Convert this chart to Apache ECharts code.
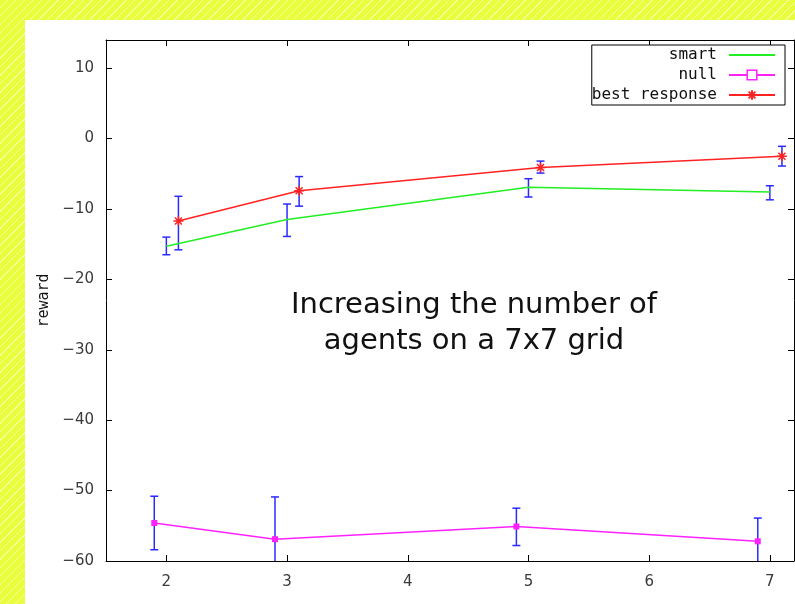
<!DOCTYPE html>
<html>
<head>
<meta charset="utf-8">
<script src="https://cdn.jsdelivr.net/npm/echarts@6/dist/echarts.min.js"></script>
<style>
  html, body { margin: 0; padding: 0; }
  body {
    width: 795px; height: 604px; overflow: hidden; position: relative;
    background: repeating-linear-gradient(135deg, #eafd3c 0px, #eafd3c 5px, #f3fe96 5px, #f3fe96 6px);
  }
  #chart { position: absolute; left: 25px; top: 20px; width: 770px; height: 584px; background: #fff; }
</style>
</head>
<body>
<div id="chart"></div>
<script>
// tick labels
var xTicks = [2, 3, 4, 5, 6, 7];
var yTicks = [-60, -50, -40, -30, -20, -10, 0, 10];

// smart
var smartX = [2, 3, 5, 7];
var smartY = [-15.3, -11.5, -6.9, -7.6];
var smartLo = [-16.5, -13.9, -8.3, -8.7];
var smartHi = [-14.0, -9.3, -5.7, -6.7];

// null
var nullX = [1.9, 2.9, 4.9, 6.9];
var nullY = [-54.6, -56.9, -55.1, -57.2];
var nullLo = [-58.4, -62.9, -57.8, -60.5];
var nullHi = [-50.8, -50.9, -52.5, -53.9];

// best response
var bestX = [2.1, 3.1, 5.1, 7.1];
var bestY = [-11.7, -7.4, -4.1, -2.5];
var bestLo = [-15.8, -9.6, -4.9, -3.9];
var bestHi = [-8.2, -5.4, -3.2, -1.1];

var chart = echarts.init(document.getElementById("chart"));

function pts(xs, ys) {
  return xs.map(function (x, i) { return [x, ys[i]]; });
}
function bars(xs, lo, hi) {
  return xs.map(function (x, i) { return [x, lo[i], hi[i]]; });
}
var errData = bars(smartX, smartLo, smartHi)
  .concat(bars(nullX, nullLo, nullHi))
  .concat(bars(bestX, bestLo, bestHi));

// gnuplot style asterisk
var starPath = "path://M5,0L5,10M0,5L10,5M1.5,1.5L8.5,8.5M1.5,8.5L8.5,1.5";

function renderErr(params, api) {
  var x = api.value(0);
  var lo = api.coord([x, api.value(1)]);
  var hi = api.coord([x, api.value(2)]);
  var w = 4;
  var st = { stroke: "#2a2aff", lineWidth: 1.5 };
  return {
    type: "group",
    children: [
      { type: "line", shape: { x1: lo[0], y1: lo[1], x2: hi[0], y2: hi[1] }, style: st },
      { type: "line", shape: { x1: lo[0] - w, y1: lo[1], x2: lo[0] + w, y2: lo[1] }, style: st },
      { type: "line", shape: { x1: hi[0] - w, y1: hi[1], x2: hi[0] + w, y2: hi[1] }, style: st }
    ]
  };
}

var axisLine = { show: true, onZero: false, lineStyle: { color: "#000", width: 1 } };
var labelStyle = { color: "#3a3a3a", fontSize: 15, fontFamily: "DejaVu Sans" };

var option = {
  animation: false,
  title: {
    text: "Increasing the number of\nagents on a 7x7 grid",
    left: 444,
    top: 262,
    textAlign: "center",
    textStyle: { fontFamily: "DejaVu Sans", fontWeight: "normal", fontSize: 29, lineHeight: 36, color: "#111" }
  },
  legend: {
    orient: "vertical",
    right: 10,
    top: 25,
    align: "right",
    itemWidth: 46,
    itemHeight: 12,
    itemGap: 4,
    padding: [2, 9, 2, 0],
    borderColor: "#000",
    borderWidth: 1,
    backgroundColor: "#fff",
    textStyle: { fontFamily: "DejaVu Sans Mono", fontSize: 16, color: "#111", width: 127, align: "right", padding: [0, 7, 0, 0] },
    data: [
      { name: "smart", itemStyle: { opacity: 0 } },
      { name: "null", itemStyle: { color: "#fff", borderColor: "#ff22ff", borderWidth: 1.5 } },
      { name: "best response" }
    ]
  },
  grid: { left: 81, top: 20, right: 1, bottom: 43 },
  xAxis: [
    {
      type: "value", min: 1.5, max: 7.2, position: "bottom",
      axisLine: axisLine, splitLine: { show: false },
      axisTick: { inside: true, length: 6, customValues: xTicks, lineStyle: { color: "#000" } },
      axisLabel: Object.assign({ margin: 14, customValues: xTicks }, labelStyle)
    },
    {
      type: "value", min: 1.5, max: 7.2, position: "top",
      axisLine: axisLine, splitLine: { show: false },
      axisTick: { inside: true, length: 6, customValues: xTicks, lineStyle: { color: "#000" } },
      axisLabel: { show: false }
    }
  ],
  yAxis: [
    {
      type: "value", min: -60, max: 14, position: "left",
      name: "reward", nameLocation: "middle", nameGap: 51, nameRotate: 90,
      nameTextStyle: { fontFamily: "DejaVu Sans Mono", fontSize: 15, color: "#111" },
      axisLine: axisLine, splitLine: { show: false },
      axisTick: { inside: true, length: 6, customValues: yTicks, lineStyle: { color: "#000" } },
      axisLabel: Object.assign({ margin: 12, customValues: yTicks, formatter: function (v) { return String(v).replace("-", "\u2212"); } }, labelStyle)
    },
    {
      type: "value", min: -60, max: 14, position: "right",
      axisLine: axisLine, splitLine: { show: false },
      axisTick: { inside: true, length: 6, customValues: yTicks, lineStyle: { color: "#000" } },
      axisLabel: { show: false }
    }
  ],
  series: [
    {
      name: "smart", type: "line", data: pts(smartX, smartY),
      showSymbol: false, symbol: "none",
      lineStyle: { color: "#22ee22", width: 1.5 }, itemStyle: { color: "#22ee22" }
    },
    {
      name: "null", type: "line", data: pts(nullX, nullY),
      symbol: "rect", symbolSize: 6,
      lineStyle: { color: "#ff22ff", width: 1.5 }, itemStyle: { color: "#ff22ff" }, z: 3
    },
    {
      name: "best response", type: "line", data: pts(bestX, bestY),
      symbol: starPath, symbolSize: 10,
      lineStyle: { color: "#ff2222", width: 1.5 },
      itemStyle: { color: "#ff2222", borderColor: "#ff2222", borderWidth: 1.5 }, z: 3
    },
    {
      name: "errorbars", type: "custom", data: errData, renderItem: renderErr,
      clip: true, z: 2, silent: true
    }
  ]
};

chart.setOption(option);
window.addEventListener("resize", function () { chart.resize(); });
</script>
</body>
</html>
